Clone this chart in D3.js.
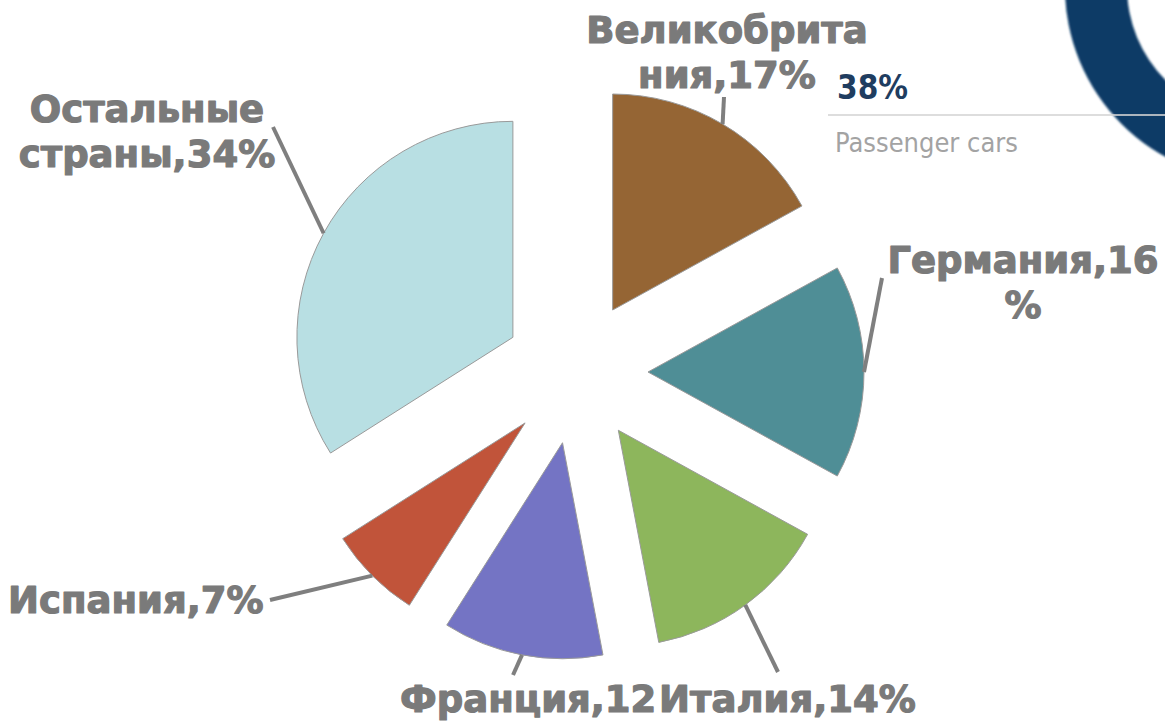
<!DOCTYPE html>
<html>
<head>
<meta charset="utf-8">
<script src="https://cdn.jsdelivr.net/npm/d3@7"></script>
<style>
  html, body { margin: 0; padding: 0; background: #ffffff; }
  svg { display: block; }
</style>
</head>
<body>
<svg id="chart" width="1165" height="725"></svg>
<script>
// Доля стран в объёме рынка
const countries = ["Великобритания", "Германия", "Италия", "Франция", "Испания", "Остальные страны"];
const shares = [17, 16, 14, 12, 7, 34];
const labelLines = [
  ["Великобрита", "ния,17%"],
  ["Германия,16", "%"],
  ["Италия,14%"],
  ["Франция,12"],
  ["Испания,7%"],
  ["Остальные", "страны,34%"]
];
const sliceColors = ["#956534", "#4f8e96", "#8db65c", "#7474c4", "#c1543a", "#b8dfe3"];

// Label placement: text anchor point, alignment and leader-line end
const labelLayout = [
  { x: 727, y: 43, anchor: "middle", lead: [724, 97] },
  { x: 1023, y: 273, anchor: "middle", lead: [882, 278] },
  { x: 659, y: 712, anchor: "start", lead: [778, 672] },
  { x: 400, y: 712, anchor: "start", lead: [513, 675] },
  { x: 8, y: 613, anchor: "start", lead: [270, 600] },
  { x: 147, y: 122, anchor: "middle", lead: [273, 127] }
];

const svg = d3.select("#chart");

// Decorative fragment on the right: ring, figure and caption
const ring = d3.arc().innerRadius(132).outerRadius(194).startAngle(0).endAngle(2 * Math.PI);
svg.append("defs").append("filter").attr("id", "soft")
  .append("feGaussianBlur").attr("stdDeviation", 0.8);
svg.append("path")
  .attr("d", ring())
  .attr("transform", "translate(1259,-13)")
  .attr("fill", "#093a66")
  .attr("filter", "url(#soft)");
svg.append("line")
  .attr("x1", 828).attr("x2", 1165).attr("y1", 115).attr("y2", 115)
  .attr("stroke", "#d4d4d4").attr("stroke-width", 2).attr("stroke-opacity", 0.8);
svg.append("text")
  .attr("x", 837).attr("y", 99)
  .attr("font-family", "'DejaVu Sans Condensed', 'DejaVu Sans', sans-serif")
  .attr("font-weight", "bold")
  .attr("font-size", 33)
  .attr("fill", "#1f3d60")
  .text("38%");
svg.append("text")
  .attr("x", 835).attr("y", 152)
  .attr("font-family", "'DejaVu Sans Condensed', 'DejaVu Sans', sans-serif")
  .attr("font-size", 27)
  .attr("fill", "#a3a3a3")
  .text("Passenger cars");

// Exploded pie
const cx = 576, cy = 372, radius = 216, explode = 72;
const data = countries.map((c, i) => ({ country: c, share: shares[i], i }));
const pie = d3.pie().value(d => d.share).sort(null).startAngle(0).endAngle(2 * Math.PI);
const arc = d3.arc().innerRadius(0).outerRadius(radius);
const arcs = pie(data);

const offsetOf = a => {
  const mid = (a.startAngle + a.endAngle) / 2;
  return [cx + explode * Math.sin(mid), cy - explode * Math.cos(mid)];
};

const slices = svg.append("g");
slices.selectAll("path")
  .data(arcs)
  .join("path")
  .attr("d", arc)
  .attr("transform", a => { const o = offsetOf(a); return `translate(${o[0]},${o[1]})`; })
  .attr("fill", a => sliceColors[a.data.i])
  .attr("stroke", "#9a9a9a")
  .attr("stroke-width", 1);

// Leader lines from the middle of each outer arc to its label
const leaders = svg.append("g");
leaders.selectAll("line")
  .data(arcs)
  .join("line")
  .attr("x1", a => { const o = offsetOf(a); const m = (a.startAngle + a.endAngle) / 2; return o[0] + radius * Math.sin(m); })
  .attr("y1", a => { const o = offsetOf(a); const m = (a.startAngle + a.endAngle) / 2; return o[1] - radius * Math.cos(m); })
  .attr("x2", a => labelLayout[a.data.i].lead[0])
  .attr("y2", a => labelLayout[a.data.i].lead[1])
  .attr("stroke", "#7f7f7f")
  .attr("stroke-width", 4);

// Data labels
const labels = svg.append("g")
  .attr("font-family", "'DejaVu Sans', Verdana, sans-serif")
  .attr("font-weight", "bold")
  .attr("font-size", 37)
  .attr("fill", "#7a7a7a")
  .attr("stroke", "#7a7a7a")
  .attr("stroke-width", 1.2)
  .attr("stroke-linejoin", "round");
arcs.forEach(a => {
  const L = labelLayout[a.data.i];
  const t = labels.append("text")
    .attr("x", L.x).attr("y", L.y)
    .attr("text-anchor", L.anchor);
  labelLines[a.data.i].forEach((line, k) => {
    t.append("tspan").attr("x", L.x).attr("dy", k === 0 ? 0 : 45).text(line);
  });
});
</script>
</body>
</html>
